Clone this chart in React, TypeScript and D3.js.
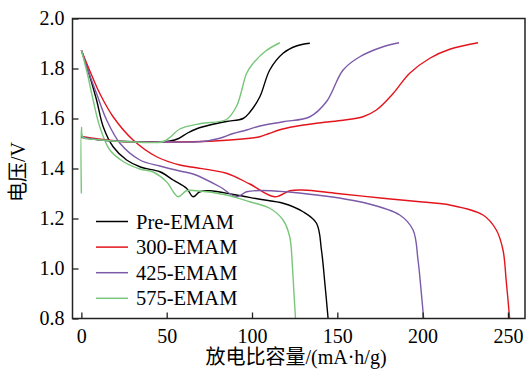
import React, { useEffect, useRef } from "react";
import * as d3 from "d3";

type Pt = [number, number];

const seriesNames = ["Pre-EMAM", "300-EMAM", "425-EMAM", "575-EMAM"];
const seriesColors = ["#000000", "#e3141c", "#7b5aa8", "#78c679"];

// charge curves (capacity mAh/g, voltage V)
const chargePre: Pt[] = [
  [0, 1.525], [10, 1.515], [25, 1.508], [45, 1.507], [52, 1.51], [57, 1.52], [62, 1.541],
  [68, 1.56], [75.3, 1.574], [85, 1.588], [94.8, 1.6], [98.7, 1.625], [104.6, 1.687],
  [110.4, 1.794], [118.2, 1.861], [126, 1.89], [133.9, 1.901],
];
const charge300: Pt[] = [
  [0, 1.528], [10, 1.518], [26.5, 1.507], [45, 1.506], [65, 1.507], [85, 1.513],
  [98.7, 1.521], [104.6, 1.527], [110, 1.54], [116.3, 1.555], [125, 1.568], [137.8, 1.581],
  [152, 1.592], [165.1, 1.607], [172.9, 1.634], [182.7, 1.70], [192.4, 1.781],
  [204.2, 1.841], [215.9, 1.877], [232.5, 1.903],
];
const charge425: Pt[] = [
  [0, 1.525], [10, 1.515], [25, 1.508], [50, 1.506], [71, 1.508], [81.1, 1.521],
  [89, 1.54], [96.8, 1.554], [104.6, 1.57], [118.2, 1.587], [133.9, 1.607],
  [143.6, 1.667], [153.4, 1.794], [163.2, 1.847], [176.8, 1.887], [186.2, 1.903],
];
const charge575: Pt[] = [
  [0, 1.30], [0.05, 1.565], [1, 1.525], [10, 1.515], [25, 1.508], [47.7, 1.507], [52, 1.525],
  [57.7, 1.558], [70, 1.58], [85, 1.596], [91, 1.65], [96.8, 1.78], [100, 1.815],
  [108, 1.87], [116.3, 1.903],
];

// discharge curves
const dischargePre: Pt[] = [
  [0, 1.873], [4, 1.79], [8.9, 1.674], [12.8, 1.567], [18.6, 1.487], [26.5, 1.434],
  [35, 1.405], [46, 1.387], [53.8, 1.354], [61.6, 1.321], [65.5, 1.287], [69.4, 1.307],
  [75.3, 1.311], [90, 1.295], [104.6, 1.277], [118.2, 1.261], [129.9, 1.227],
  [137.8, 1.181], [140.7, 1.074], [142.7, 0.941], [144.6, 0.8],
];
const discharge300: Pt[] = [
  [0, 1.873], [5, 1.79], [10.8, 1.70], [18.6, 1.607], [30.3, 1.514], [44.1, 1.447],
  [57.7, 1.414], [65.5, 1.405], [85, 1.381], [98.7, 1.338], [113.4, 1.287], [122.1, 1.311],
  [129.9, 1.314], [150, 1.30], [176.8, 1.281], [200, 1.266], [215.9, 1.254], [235.4, 1.214],
  [243.2, 1.154], [247.1, 1.074], [249, 0.95], [251, 0.8],
];
const discharge425: Pt[] = [
  [0, 1.873], [4, 1.79], [8.9, 1.70], [14.8, 1.594], [22.6, 1.501], [34.3, 1.434],
  [46, 1.41], [57.7, 1.39], [65.5, 1.378], [81.1, 1.327], [90.9, 1.287], [96.8, 1.307],
  [104.6, 1.312], [137.8, 1.294], [167.1, 1.261], [186.6, 1.214], [194.4, 1.154],
  [197.3, 1.034], [199, 0.92], [200.6, 0.8],
];
const discharge575: Pt[] = [
  [0, 1.873], [3.5, 1.78], [6.9, 1.674], [10.8, 1.567], [16.7, 1.474], [24.5, 1.428],
  [34.3, 1.398], [42.1, 1.386], [49.9, 1.347], [56.7, 1.287], [61.6, 1.311], [67.5, 1.311],
  [85, 1.294], [98.7, 1.267], [110.4, 1.241], [118.2, 1.194], [122.1, 1.127],
  [123.7, 1.007], [124.6, 0.9], [125.5, 0.8],
];

const chargeCurves = [chargePre, charge300, charge425, charge575];
const dischargeCurves = [dischargePre, discharge300, discharge425, discharge575];

const xTicks = [0, 50, 100, 150, 200, 250];
const yTicks = [0.8, 1.0, 1.2, 1.4, 1.6, 1.8, 2.0];

export default function App() {
  const svgRef = useRef<SVGSVGElement>(null);

  useEffect(() => {
    if (!svgRef.current) return;
    const svg = d3.select(svgRef.current);
    svg.selectAll("*").remove();

    const W = 528, H = 371;
    const margin = { top: 18.5, right: 3, bottom: 52.5, left: 72.5 };
    const width = W - margin.left - margin.right;
    const height = H - margin.top - margin.bottom;
    const font = "'Liberation Serif', 'Times New Roman', 'Noto Sans CJK SC', serif";

    const g = svg.append("g").attr("transform", `translate(${margin.left},${margin.top})`);

    const x = d3.scaleLinear().domain([-5.2, 260]).range([0, width]);
    const y = d3.scaleLinear().domain([0.8, 2.0]).range([height, 0]);

    const line = d3.line<Pt>().x(d => x(d[0])).y(d => y(d[1])).curve(d3.curveCatmullRom.alpha(0.5));

    // curves
    dischargeCurves.forEach((c, i) => {
      g.append("path").datum(c).attr("fill", "none").attr("stroke", seriesColors[i])
        .attr("stroke-width", 1.4).attr("d", line);
    });
    chargeCurves.forEach((c, i) => {
      g.append("path").datum(c).attr("fill", "none").attr("stroke", seriesColors[i])
        .attr("stroke-width", 1.4).attr("d", line);
    });

    // frame
    g.append("rect").attr("width", width).attr("height", height)
      .attr("fill", "none").attr("stroke", "#222").attr("stroke-width", 1.5);

    // axes
    const xAxis = g.append("g").attr("transform", `translate(0,${height})`)
      .call(d3.axisBottom(x).tickValues(xTicks).tickSizeInner(-6).tickSizeOuter(0).tickPadding(10));
    xAxis.select(".domain").remove();
    xAxis.selectAll("line").attr("stroke", "#222").attr("stroke-width", 1.3);
    xAxis.selectAll("text").attr("fill", "#000").style("font-family", font).style("font-size", "20px");

    const yAxis = g.append("g")
      .call(d3.axisLeft(y).tickValues(yTicks).tickSizeInner(-6).tickSizeOuter(0).tickPadding(8)
        .tickFormat(d => d3.format(".1f")(Number(d))));
    yAxis.select(".domain").remove();
    yAxis.selectAll("line").attr("stroke", "#222").attr("stroke-width", 1.3);
    yAxis.selectAll("text").attr("fill", "#000").style("font-family", font).style("font-size", "20px");

    // legend
    const legend = g.append("g").attr("transform", `translate(${96 - margin.left},${221.5 - margin.top})`);
    seriesNames.forEach((name, i) => {
      const row = legend.append("g").attr("transform", `translate(0,${i * 25.6})`);
      row.append("line").attr("x1", 0).attr("x2", 32).attr("y1", 0).attr("y2", 0)
        .attr("stroke", seriesColors[i]).attr("stroke-width", 1.5);
      row.append("text").attr("x", 40).attr("y", 0).attr("dy", "0.35em")
        .style("font-family", font).style("font-size", "20.5px").attr("fill", "#000").text(name);
    });

    // axis titles
    svg.append("text").attr("x", 296).attr("y", 364).attr("text-anchor", "middle")
      .style("font-family", font).style("font-size", "20px").attr("fill", "#000")
      .text("放电比容量/(mA·h/g)");
    svg.append("text").attr("transform", "translate(25,172) rotate(-90)").attr("text-anchor", "middle")
      .style("font-family", font).style("font-size", "20px").attr("fill", "#000")
      .text("电压/V");
  }, []);

  return (
    <div style={{ position: "fixed", left: 0, top: 0, width: 528, height: 371, background: "#fff" }}>
      <svg ref={svgRef} width={528} height={371} style={{ display: "block" }} />
    </div>
  );
}
